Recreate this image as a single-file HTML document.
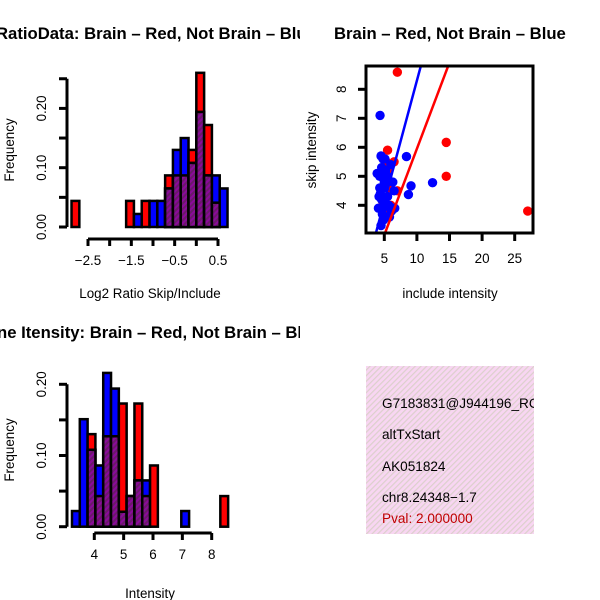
<!DOCTYPE html>
<html><head><meta charset="utf-8"><style>
body{margin:0;background:#fff}
svg{display:block;font-family:"Liberation Sans",sans-serif}
</style></head><body>
<svg id="s" width="600" height="600" viewBox="0 0 600 600">
<defs>
<pattern id="ph" width="4" height="4" patternUnits="userSpaceOnUse" patternTransform="rotate(45)">
<rect width="4" height="4" fill="#8a0a9a"/><rect width="2" height="4" fill="#6a1a6a"/></pattern>
<pattern id="pk" width="4" height="4" patternUnits="userSpaceOnUse" patternTransform="rotate(45)">
<rect width="4" height="4" fill="#f8d6f2"/><rect width="1.2" height="4" fill="#dcd0cc"/></pattern>
<clipPath id="cl"><rect x="0" y="0" width="300" height="600"/></clipPath>
<clipPath id="cbox"><rect x="366" y="66" width="167" height="167"/></clipPath>
<clipPath id="ctext"><rect x="366" y="366" width="168" height="168"/></clipPath>
</defs>
<g clip-path="url(#cl)">
<text x="-4" y="39" font-size="16.7" font-weight="bold">RatioData: Brain – Red, Not Brain – Blue</text>
<text x="-3" y="338" font-size="16.7" font-weight="bold">ne Itensity: Brain – Red, Not Brain – Blue</text>
</g>
<text x="334" y="39" font-size="16.7" font-weight="bold">Brain – Red, Not Brain – Blue</text>
<g id="g1"></g><g id="g2"></g><g id="g3"></g>
<g>
<rect x="366" y="366" width="168" height="168" fill="url(#pk)"/>
<g clip-path="url(#ctext)" font-size="13.6">
<text x="382" y="408">G7183831@J944196_RC</text>
<text x="382" y="439">altTxStart</text>
<text x="382" y="471">AK051824</text>
<text x="382" y="502">chr8.24348−1.7</text>
<text x="382" y="523" fill="#c00000">Pval: 2.000000</text>
</g></g>
</svg>
<script>
// ---- Ratio histogram data ----
const ratioBinStart = -2.88, ratioBinWidth = 0.18;
const ratioRed  = [0.044,0,0,0,0,0,0,0.044,0,0.044,0,0,0.087,0.087,0.087,0.13,0.26,0.172,0.041,0];
const ratioBlue = [0,0,0,0,0,0,0,0,0.022,0,0.044,0.044,0.065,0.13,0.15,0.108,0.194,0.087,0.087,0.065];
const ratioXTicks = [-2.5,-2,-1.5,-1,-0.5,0,0.5];
const ratioXLabels = ["−2.5","","−1.5","","−0.5","","0.5"];
const ratioYTicks = [0,0.05,0.1,0.15,0.2,0.25];
const ratioYLabels = ["0.00","","0.10","","0.20",""];
// ---- Intensity histogram data ----
const intBinStart = 3.24, intBinWidth = 0.266;
const intRed  = [0,0,0.13,0.043,0.127,0.127,0.173,0.043,0.173,0.043,0.086,0,0,0,0,0,0,0,0,0.043];
const intBlue = [0.022,0.151,0.108,0.086,0.216,0.194,0.021,0.043,0.065,0.065,0,0,0,0,0.022,0,0,0,0,0];
const intXTicks = [4,5,6,7,8];
const intXLabels = ["4","5","6","7","8"];
const intYTicks = [0,0.05,0.1,0.15,0.2];
const intYLabels = ["0.00","","0.10","","0.20"];
// ---- Scatter data ----
const redX = [7.0,14.5,14.5,27.0,5.5,5.3,5.8,6.5,5.2,7.0,4.8,6.0,5.0,5.6,5.4];
const redY = [8.59,6.17,5.0,3.8,5.9,5.5,5.3,5.5,4.9,4.5,4.1,4.0,3.8,4.6,5.2];
const blueX = [4.35,12.4,8.4,9.1,8.7,4.5,4.8,4.6,5.2,4.3,5.0,4.9,5.5,4.6,4.4,5.1,4.1,4.7,5.3,4.9,6.1,6.6,6.5,4.5,5.8,6.0,5.5,4.2,5.7,4.8,6.3,5.1,3.9,4.3];
const blueY = [7.1,4.78,5.68,4.67,4.37,5.7,5.6,5.3,5.2,5.0,4.8,4.6,4.3,4.2,4.4,4.1,3.9,3.7,3.6,3.5,3.8,3.9,4.5,3.3,3.6,5.4,5.0,4.3,4.0,3.9,4.8,5.6,5.1,4.6];
const scXTicks = [5,10,15,20,25];
const scYTicks = [4,5,6,7,8];
const blueFit = [0.836,-0.06], redFit = [0.595,0.0];

const FS = 13.4;
const NS="http://www.w3.org/2000/svg";
function mk(p,t,a){const e=document.createElementNS(NS,t);for(const k in a)e.setAttribute(k,a[k]);p.appendChild(e);return e;}

function hist(g,o){
  const sx=v=>o.x0+(v-o.v0)*o.kx, sy=v=>o.y0-v*o.ky;
  for(let i=0;i<o.red.length;i++){
    const a=o.binStart+i*o.binW, b=a+o.binW, r=o.red[i], bl=o.blue[i];
    const x=sx(a), w=sx(b)-sx(a);
    if(r>0){const e=mk(g,'rect',{x:x,y:sy(r),width:w,height:sy(0)-sy(r),fill:'#f00',stroke:'#000','stroke-width':2.5});
      }
    if(bl>0){const e=mk(g,'rect',{x:x,y:sy(bl),width:w,height:sy(0)-sy(bl),fill:'#00f',stroke:'#000','stroke-width':2.5});
      }
    const m=Math.min(r,bl);
    if(m>0){const e=mk(g,'rect',{x:x,y:sy(m),width:w,height:sy(0)-sy(m),fill:'url(#ph)',stroke:'#000','stroke-width':2.5});
      }
  }
  const yt=o.yTicks;
  const ya=mk(g,'line',{x1:o.ax,x2:o.ax,y1:sy(yt[0]),y2:sy(yt[yt.length-1]),stroke:'#000','stroke-width':3});
  
  yt.forEach((v,i)=>{mk(g,'line',{x1:o.ax-8,x2:o.ax,y1:sy(v),y2:sy(v),stroke:'#000','stroke-width':3});
    if(o.yLabels[i]){const t=mk(g,'text',{x:0,y:0,'font-size':FS,'text-anchor':'middle',transform:`translate(${o.ax-21},${sy(v)}) rotate(-90)`});t.textContent=o.yLabels[i];
      }});
  const xt=o.xTicks;
  const xa=mk(g,'line',{x1:sx(xt[0]),x2:sx(xt[xt.length-1]),y1:o.ay,y2:o.ay,stroke:'#000','stroke-width':3});
  
  xt.forEach((v,i)=>{mk(g,'line',{x1:sx(v),x2:sx(v),y1:o.ay,y2:o.ay+7,stroke:'#000','stroke-width':3});
    if(o.xLabels[i]){const t=mk(g,'text',{x:sx(v),y:o.ay+26,'font-size':FS,'text-anchor':'middle'});t.textContent=o.xLabels[i];
      }});
  const yl=mk(g,'text',{x:0,y:0,'font-size':FS,'text-anchor':'middle',transform:`translate(14,${o.ylY}) rotate(-90)`});yl.textContent='Frequency';
  
  const xl=mk(g,'text',{x:150,y:o.xlY,'font-size':FS,'text-anchor':'middle'});xl.textContent=o.xTitle;
  
}
hist(document.getElementById('g1'),{red:ratioRed,blue:ratioBlue,binStart:ratioBinStart,binW:ratioBinWidth,
  x0:88,v0:-2.5,kx:43.33,y0:227,ky:593,ax:67,ay:239,xTicks:ratioXTicks,xLabels:ratioXLabels,yTicks:ratioYTicks,yLabels:ratioYLabels,ylY:150,xlY:298,xTitle:'Log2 Ratio Skip/Include'});
hist(document.getElementById('g2'),{red:intRed,blue:intBlue,binStart:intBinStart,binW:intBinWidth,
  x0:94.3,v0:4,kx:29.35,y0:526.7,ky:712,ax:67,ay:533,xTicks:intXTicks,xLabels:intXLabels,yTicks:intYTicks,yLabels:intYLabels,ylY:450,xlY:598,xTitle:'Intensity'});

(function(){
  const g=document.getElementById('g3');
  const sx=v=>384.3+(v-5)*6.52, sy=v=>89.3-(v-8)*29;
  const pts=mk(g,'g',{'clip-path':'url(#cbox)'});
  redX.forEach((x,i)=>{const c=mk(pts,'circle',{cx:sx(x),cy:sy(redY[i]),r:4.7,fill:'#f00'});
    });
  blueX.forEach((x,i)=>{const c=mk(pts,'circle',{cx:sx(x),cy:sy(blueY[i]),r:4.7,fill:'#00f'});
    });
  [[blueFit,'#00f','blue-fit-line'],[redFit,'#f00','red-fit-line']].forEach(([f,col,nm])=>{
    const xa=0,xb=40;const l=mk(pts,'line',{x1:sx(xa),y1:sy(f[0]*xa+f[1]),x2:sx(xb),y2:sy(f[0]*xb+f[1]),stroke:col,'stroke-width':2.5});
    });
  const b=mk(g,'rect',{x:366,y:66,width:167,height:167,fill:'none',stroke:'#000','stroke-width':3});
  
  scXTicks.forEach(v=>{mk(g,'line',{x1:sx(v),x2:sx(v),y1:233,y2:241,stroke:'#000','stroke-width':3});
    const t=mk(g,'text',{x:sx(v),y:263,'font-size':FS,'text-anchor':'middle'});t.textContent=v;
    });
  scYTicks.forEach(v=>{mk(g,'line',{x1:358,x2:366,y1:sy(v),y2:sy(v),stroke:'#000','stroke-width':3});
    const t=mk(g,'text',{x:0,y:0,'font-size':FS,'text-anchor':'middle',transform:`translate(346,${sy(v)}) rotate(-90)`});t.textContent=v;
    });
  const yl=mk(g,'text',{x:0,y:0,'font-size':FS,'text-anchor':'middle',transform:'translate(316,150) rotate(-90)'});yl.textContent='skip intensity';
  
  const xl=mk(g,'text',{x:450,y:298,'font-size':FS,'text-anchor':'middle'});xl.textContent='include intensity';
  
})();
</script>
</body></html>
